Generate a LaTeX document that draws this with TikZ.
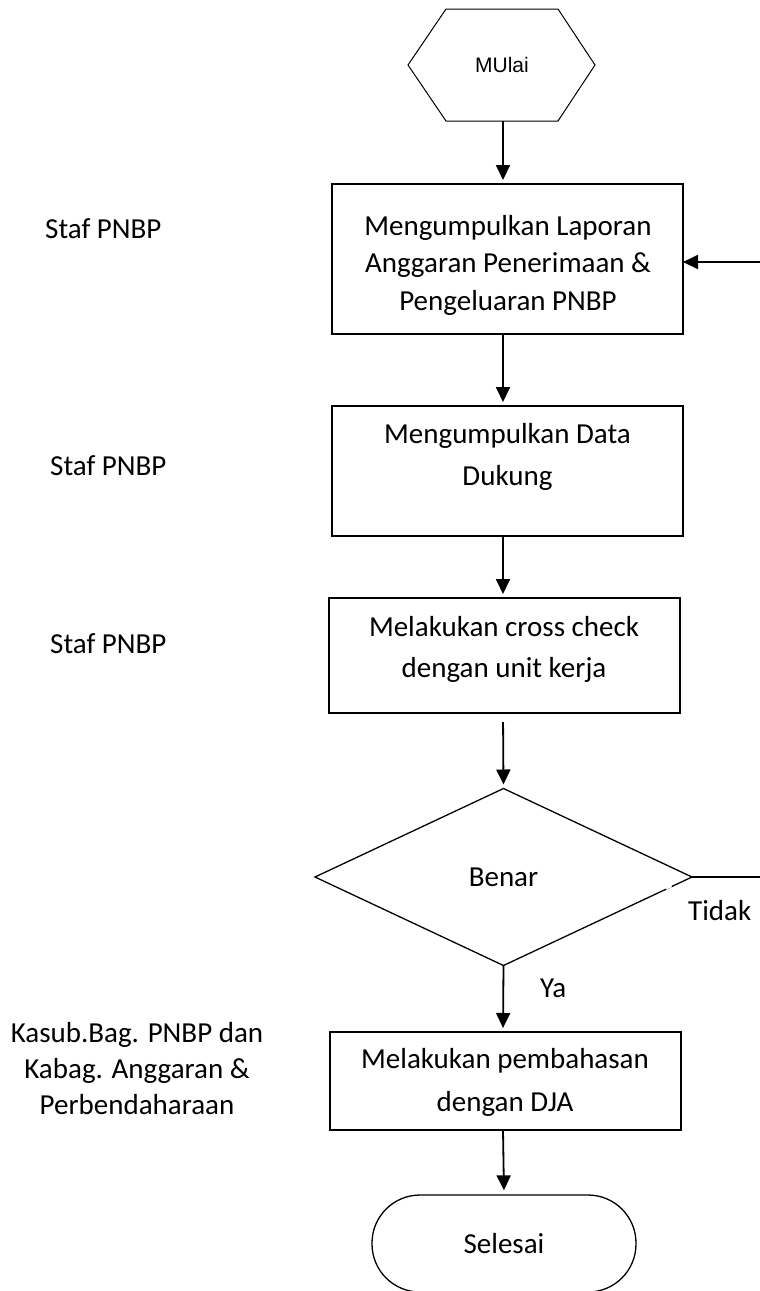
\documentclass[tikz,border=0pt]{standalone}
\usepackage{fontspec}
\setmainfont{Carlito}
\newfontfamily\arialfont{Liberation Sans}
\usetikzlibrary{arrows.meta,shapes.geometric}

\tikzset{
  procbox/.style={draw, line width=1.8pt, minimum width=351pt, inner sep=0pt, outer sep=0pt},
  txt/.style={font=\fontsize{29}{35}\selectfont, inner sep=0pt, anchor=base},
  lbl/.style={font=\fontsize{29}{35}\selectfont, inner sep=0pt, anchor=base west},
  flow/.style={line width=1.8pt, -{Triangle[length=15pt,width=14pt]}, shorten >=4pt},
  thinline/.style={line width=1.3pt}
}

\begin{document}
\begin{tikzpicture}[x=1pt,y=-1pt]
  \useasboundingbox (0,0) rectangle (760,1291);
  \clip (0,0) rectangle (760,1291);

  % start symbol (hexagon)
  \coordinate (h1) at (408,65);
  \coordinate (h2) at (446,9);
  \coordinate (h3) at (558,9);
  \coordinate (h4) at (595,65);
  \coordinate (h5) at (558,121);
  \coordinate (h6) at (446,121);
  \draw[line width=1pt] (h1) -- (h2) -- (h3) -- (h4) -- (h5) -- (h6) -- cycle;
  \node[font=\arialfont\fontsize{21}{25}\selectfont, inner sep=0pt] (mulai) at (502,65) {MUlai};
  \coordinate (hexb) at (503,121);

  % process boxes
  \node[procbox, minimum height=150pt] (b1) at (507.5,259) {};
  \node[procbox, minimum height=130pt] (b2) at (507.5,471) {};
  \node[procbox, minimum height=115pt] (b3) at (504.5,655.5) {};
  \node[procbox, line width=1.5pt, minimum height=98pt] (b4) at (505.5,1081) {};

  \node[txt] (b1a) at (508,235) {Mengumpulkan Laporan};
  \node[txt] (b1b) at (508,272.5) {Anggaran Penerimaan \&};
  \node[txt] (b1c) at (508,310) {Pengeluaran PNBP};

  \node[txt] (b2a) at (507.5,443) {Mengumpulkan Data};
  \node[txt] (b2b) at (507.5,485) {Dukung};

  \node[txt] (b3a) at (504,636) {Melakukan cross check};
  \node[txt] (b3b) at (504,677) {dengan unit kerja};

  \node[txt] (b4a) at (505,1068) {Melakukan pembahasan};
  \node[txt] (b4b) at (505,1111) {dengan DJA};

  % decision
  \node[diamond, draw, thinline, aspect=2.13, minimum width=377pt, minimum height=177pt,
        inner sep=0pt, outer sep=0pt, font=\fontsize{29}{35}\selectfont] (dec) at (503.5,877) {Benar};
  % small break in the lower right edge
  \draw[white, line width=2.2pt] (666,888.6) -- (671.5,886.1);

  % terminator
  \node[draw, thinline, rounded corners=48pt, minimum width=264pt, minimum height=97pt,
        inner sep=0pt, font=\fontsize{29}{35}\selectfont] (stop) at (504,1243.5) {Selesai};

  % side labels
  \node[lbl] (s1) at (45,238) {Staf PNBP};
  \node[lbl] (s2) at (50,475) {Staf PNBP};
  \node[lbl] (s3) at (50,653) {Staf PNBP};
  \node[txt] (k1) at (137,1042) {Kasub.Bag. PNBP dan};
  \node[txt] (k2) at (137,1078) {Kabag. Anggaran \&};
  \node[txt] (k3) at (137,1114) {Perbendaharaan};

  \node[lbl] (ya) at (540,997) {Ya};
  \node[lbl] (tidak) at (688,920) {Tidak};

  % connectors
  \coordinate (loopin) at (760,262);
  \coordinate (loopout) at (760,877);
  \draw[flow] (hexb) -- (hexb |- b1.north);
  \draw[flow, shorten >=0pt] (loopin) -- (loopin -| b1.east);
  \draw[flow] (hexb |- b1.south) -- (hexb |- b2.north);
  \draw[flow] (hexb |- b2.south) -- (hexb |- b3.north);
  \draw[flow, shorten <=9pt] (hexb |- b3.south) -- (dec.north);
  \draw[thinline] (dec.east) -- (loopout);
  \draw[flow] (dec.south) -- (hexb |- b4.north);
  \draw[flow] (hexb |- b4.south) -- (stop.north);
\end{tikzpicture}
\end{document}
